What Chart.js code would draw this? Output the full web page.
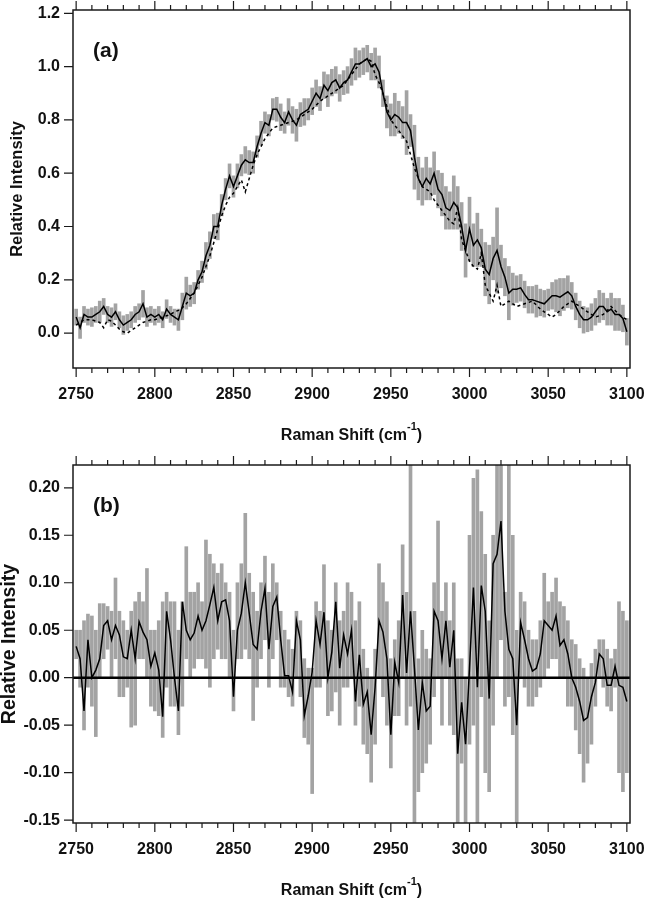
<!DOCTYPE html>
<html>
<head>
<meta charset="utf-8">
<script src="https://cdn.jsdelivr.net/npm/chart.js@4.4.0/dist/chart.umd.min.js"></script>
<style>
  html, body { margin: 0; padding: 0; background: #fff; }
  #wrap { position: relative; width: 647px; height: 899px; }
  canvas { position: absolute; left: 0; }
  #chartA { top: 0; }
  #chartB { top: 450px; }
</style>
</head>
<body>
<div id="wrap">
  <canvas id="chartA" width="647" height="450"></canvas>
  <canvas id="chartB" width="647" height="449"></canvas>
</div>
<script>
// Raman shift grid (cm-1), shared by both panels
const ramanShift = [
  2750, 2752.5, 2755, 2757.5, 2760, 2762.5, 2765, 2767.5, 2770, 2772.5,
  2775, 2777.5, 2780, 2782.5, 2785, 2787.5, 2790, 2792.5, 2795, 2797.5,
  2800, 2802.5, 2805, 2807.5, 2810, 2812.5, 2815, 2817.5, 2820, 2822.5,
  2825, 2827.5, 2830, 2832.5, 2835, 2837.5, 2840, 2842.5, 2845, 2847.5,
  2850, 2852.5, 2855, 2857.5, 2860, 2862.5, 2865, 2867.5, 2870, 2872.5,
  2875, 2877.5, 2880, 2882.5, 2885, 2887.5, 2890, 2892.5, 2895, 2897.5,
  2900, 2902.5, 2905, 2907.5, 2910, 2912.5, 2915, 2917.5, 2920, 2922.5,
  2925, 2927.5, 2930, 2932.5, 2935, 2937.5, 2940, 2942.5, 2945, 2947.5,
  2950, 2952.5, 2955, 2957.5, 2960, 2962.5, 2965, 2967.5, 2970, 2972.5,
  2975, 2977.5, 2980, 2982.5, 2985, 2987.5, 2990, 2992.5, 2995, 2997.5,
  3000, 3002.5, 3005, 3007.5, 3010, 3012.5, 3015, 3017.5, 3020, 3022.5,
  3025, 3027.5, 3030, 3032.5, 3035, 3037.5, 3040, 3042.5, 3045, 3047.5,
  3050, 3052.5, 3055, 3057.5, 3060, 3062.5, 3065, 3067.5, 3070, 3072.5,
  3075, 3077.5, 3080, 3082.5, 3085, 3087.5, 3090, 3092.5, 3095, 3097.5,
  3100
];
const xTicks = [2750, 2800, 2850, 2900, 2950, 3000, 3050, 3100];
const yTicksA = [0, 0.2, 0.4, 0.6, 0.8, 1.0, 1.2];
const yTicksB = [-0.15, -0.10, -0.05, 0, 0.05, 0.10, 0.15, 0.20];

// panel (a): measured spectrum (solid), fit (dashed), uncertainty (grey)
const spectrumA = [
  0.06, 0.02, 0.07, 0.06, 0.06, 0.07, 0.08, 0.10, 0.07, 0.06,
  0.08, 0.05, 0.03, 0.04, 0.05, 0.07, 0.08, 0.11, 0.06, 0.07,
  0.06, 0.07, 0.05, 0.09, 0.07, 0.06, 0.05, 0.10, 0.15, 0.14,
  0.15, 0.20, 0.23, 0.29, 0.33, 0.40, 0.40, 0.48, 0.54, 0.59,
  0.55, 0.59, 0.63, 0.65, 0.64, 0.64, 0.70, 0.75, 0.79, 0.78,
  0.84, 0.84, 0.81, 0.79, 0.83, 0.80, 0.78, 0.82, 0.83, 0.84,
  0.87, 0.90, 0.88, 0.93, 0.91, 0.94, 0.95, 0.92, 0.94, 0.95,
  0.98, 1.01, 1.01, 1.02, 1.03, 1.00, 1.01, 0.98, 0.90, 0.83,
  0.80, 0.82, 0.81, 0.79, 0.79, 0.76, 0.66, 0.58, 0.55, 0.58,
  0.56, 0.60, 0.54, 0.52, 0.47, 0.46, 0.49, 0.47, 0.40, 0.31,
  0.39, 0.33, 0.35, 0.32, 0.24, 0.22, 0.28, 0.31, 0.25, 0.21,
  0.15, 0.165, 0.165, 0.17, 0.145, 0.125, 0.125, 0.12, 0.115, 0.11,
  0.125, 0.14, 0.14, 0.135, 0.145, 0.155, 0.14, 0.10, 0.07, 0.05,
  0.05, 0.06, 0.08, 0.10, 0.10, 0.08, 0.09, 0.07, 0.07, 0.055,
  0.005
];
const fitA = [
  0.03, 0.04, 0.05, 0.05, 0.05, 0.045, 0.04, 0.02, 0.05, 0.045,
  0.03, 0.015, 0.005, 0.0, 0.01, 0.02, 0.03, 0.04, 0.045, 0.05,
  0.05, 0.055, 0.06, 0.065, 0.07, 0.08, 0.085, 0.095, 0.11, 0.13,
  0.15, 0.18, 0.21, 0.25, 0.29, 0.34, 0.39, 0.44, 0.48, 0.51,
  0.525, 0.55, 0.575, 0.53, 0.58, 0.63, 0.67, 0.70, 0.73, 0.75,
  0.77, 0.775, 0.78, 0.785, 0.79, 0.795, 0.80, 0.81, 0.82, 0.83,
  0.84, 0.855, 0.87, 0.88, 0.89, 0.90, 0.91, 0.92, 0.93, 0.95,
  0.97, 0.99, 1.01, 1.02, 1.03, 1.02, 0.97, 0.94, 0.90, 0.85,
  0.80, 0.78, 0.76, 0.74, 0.72, 0.67, 0.62, 0.58, 0.55, 0.54,
  0.53, 0.50, 0.48, 0.46, 0.44, 0.42, 0.41, 0.47, 0.35, 0.31,
  0.27, 0.25, 0.24, 0.30, 0.18, 0.15, 0.12, 0.18, 0.10, 0.11,
  0.12, 0.11, 0.10, 0.105, 0.11, 0.115, 0.12, 0.105, 0.09, 0.08,
  0.07, 0.06, 0.07, 0.085, 0.10, 0.11, 0.12, 0.11, 0.10, 0.09,
  0.08, 0.07, 0.06, 0.065, 0.07, 0.085, 0.10, 0.085, 0.07, 0.06,
  0.05
];
const errA = [
  0.03, 0.04, 0.03, 0.03, 0.035, 0.03, 0.04, 0.03, 0.03, 0.035,
  0.03, 0.03, 0.035, 0.03, 0.03, 0.03, 0.03, 0.05, 0.035, 0.03,
  0.03, 0.03, 0.03, 0.035, 0.03, 0.03, 0.04, 0.05, 0.06, 0.04,
  0.04, 0.035, 0.04, 0.05, 0.05, 0.045, 0.05, 0.04, 0.04, 0.045,
  0.04, 0.045, 0.04, 0.05, 0.045, 0.04, 0.04, 0.045, 0.04, 0.04,
  0.04, 0.045, 0.05, 0.04, 0.05, 0.05, 0.06, 0.045, 0.05, 0.04,
  0.05, 0.05, 0.045, 0.05, 0.06, 0.05, 0.05, 0.05, 0.045, 0.05,
  0.05, 0.06, 0.05, 0.05, 0.05, 0.05, 0.06, 0.06, 0.05, 0.06,
  0.06, 0.08, 0.06, 0.06, 0.12, 0.06, 0.12, 0.08, 0.07, 0.08,
  0.06, 0.08, 0.07, 0.08, 0.08, 0.07, 0.10, 0.08, 0.09, 0.10,
  0.12, 0.08, 0.10, 0.07, 0.10, 0.11, 0.08, 0.16, 0.08, 0.07,
  0.10, 0.06, 0.05, 0.05, 0.05, 0.05, 0.05, 0.06, 0.05, 0.05,
  0.04, 0.05, 0.06, 0.07, 0.06, 0.06, 0.05, 0.05, 0.05, 0.05,
  0.045, 0.05, 0.05, 0.06, 0.05, 0.05, 0.06, 0.06, 0.06, 0.05,
  0.05
];

// panel (b): residual (black) and its spread (grey)
const residualB = [
  0.033, 0.020, -0.035, 0.040, 0.000, 0.008, 0.020, 0.055, 0.060, 0.040,
  0.055, 0.045, 0.022, 0.020, 0.050, 0.020, 0.059, 0.048, 0.040, 0.012,
  0.026, 0.008, -0.041, 0.070, 0.040, 0.000, -0.035, 0.080, 0.050, 0.040,
  0.047, 0.065, 0.050, 0.060, 0.077, 0.095, 0.060, 0.080, 0.082, 0.060,
  -0.020, 0.050, 0.068, 0.100, 0.068, 0.035, 0.030, 0.070, 0.094, 0.030,
  0.075, 0.085, 0.040, 0.002, 0.002, -0.015, 0.060, 0.040, -0.040, -0.019,
  0.006, 0.060, 0.035, 0.069, 0.000, 0.027, 0.080, 0.010, 0.045, 0.025,
  0.050, -0.025, 0.024, -0.028, -0.015, -0.060, -0.010, 0.060, 0.048, 0.020,
  -0.060, 0.016, -0.005, 0.087, 0.005, 0.070, 0.010, -0.055, -0.005, -0.035,
  -0.030, 0.070, 0.060, 0.020, 0.060, 0.011, 0.050, -0.080, -0.026, -0.070,
  0.010, 0.095, -0.010, 0.097, 0.070, -0.022, 0.120, 0.130, 0.165, 0.070,
  0.030, 0.020, -0.050, 0.058, 0.040, 0.020, 0.007, 0.010, 0.025, 0.060,
  0.055, 0.050, 0.065, 0.034, 0.040, 0.025, 0.000, -0.010, -0.025, -0.045,
  -0.042, -0.020, -0.005, 0.025, 0.020, -0.008, -0.008, 0.012, -0.008, -0.010,
  -0.025
];
const residualHiB = [
  0.050, 0.050, 0.060, 0.067, 0.065, 0.050, 0.078, 0.078, 0.075, 0.070,
  0.105, 0.070, 0.060, 0.050, 0.070, 0.080, 0.090, 0.080, 0.115, 0.050,
  0.050, 0.060, 0.080, 0.090, 0.080, 0.080, 0.050, 0.080, 0.138, 0.090,
  0.090, 0.100, 0.080, 0.145, 0.130, 0.120, 0.110, 0.120, 0.100, 0.090,
  0.050, 0.100, 0.120, 0.173, 0.110, 0.090, 0.070, 0.100, 0.128, 0.090,
  0.120, 0.100, 0.070, 0.050, 0.040, 0.030, 0.070, 0.060, 0.020, 0.010,
  0.010, 0.080, 0.070, 0.119, 0.060, 0.050, 0.100, 0.060, 0.070, 0.100,
  0.090, 0.060, 0.080, 0.030, 0.010, 0.000, 0.030, 0.120, 0.100, 0.080,
  0.020, 0.040, 0.060, 0.140, 0.090, 0.230, 0.070, 0.020, 0.050, 0.030,
  0.020, 0.100, 0.165, 0.070, 0.100, 0.060, 0.100, 0.020, 0.020, 0.000,
  0.150, 0.210, 0.219, 0.175, 0.130, 0.060, 0.150, 0.230, 0.230, 0.090,
  0.230, 0.150, 0.050, 0.090, 0.080, 0.050, 0.040, 0.040, 0.060, 0.110,
  0.080, 0.090, 0.105, 0.080, 0.075, 0.060, 0.040, 0.035, 0.020, 0.010,
  0.000, 0.015, 0.030, 0.040, 0.040, 0.030, 0.020, 0.030, 0.080, 0.070,
  0.060
];
const residualLoB = [
  0.020, -0.010, -0.055, -0.010, -0.030, -0.062, 0.000, 0.020, 0.030, 0.000,
  0.020, -0.020, -0.020, -0.010, -0.052, -0.050, 0.020, 0.020, 0.000, -0.030,
  -0.035, -0.040, -0.063, -0.010, -0.030, -0.030, -0.060, -0.030, 0.020, 0.000,
  0.010, 0.020, 0.020, 0.010, -0.010, 0.020, 0.030, 0.020, 0.020, 0.000,
  -0.035, 0.020, 0.020, 0.030, 0.020, -0.045, -0.010, 0.020, 0.040, -0.010,
  0.020, 0.040, -0.010, -0.010, -0.020, -0.030, 0.000, -0.020, -0.063, -0.070,
  -0.122, -0.010, -0.010, 0.000, -0.040, -0.035, -0.015, -0.050, -0.010, -0.010,
  0.000, -0.050, -0.030, -0.070, -0.080, -0.110, -0.070, 0.000, -0.020, -0.050,
  -0.095, -0.040, -0.040, 0.000, -0.050, -0.030, -0.160, -0.120, -0.100, -0.090,
  -0.070, -0.020, 0.000, -0.050, 0.000, -0.050, -0.060, -0.160, -0.090, -0.160,
  -0.070, -0.050, -0.160, -0.020, -0.100, -0.120, -0.050, 0.000, 0.040, -0.030,
  -0.020, -0.060, -0.160, 0.000, -0.010, -0.030, -0.030, -0.020, -0.010, 0.000,
  0.010, 0.020, 0.020, 0.000, 0.000, -0.030, -0.030, -0.055, -0.080, -0.110,
  -0.090, -0.070, -0.030, 0.000, -0.010, -0.030, -0.035, -0.010, -0.100, -0.120,
  -0.100
];

const FONT = '"Liberation Sans", Arial, sans-serif';
const GREY = '#a3a3a3';

// frame, ticks on top/bottom/left, panel letter and x title with superscript
function decorations(panelLabel, titleBaseline) {
  return {
    id: 'decorations',
    afterDraw(chart) {
      const { ctx, chartArea: a, scales: { x, y } } = chart;
      ctx.save();
      ctx.strokeStyle = '#1a1a1a';
      ctx.lineWidth = 1.5;
      ctx.strokeRect(a.left, a.top, a.right - a.left, a.bottom - a.top);

      ctx.beginPath();
      ctx.lineWidth = 1.2;
      for (let v = xTicks[0]; v <= xTicks[xTicks.length - 1]; v += 10) {
        const px = x.getPixelForValue(v);
        const len = xTicks.includes(v) ? 9 : 5;
        ctx.moveTo(px, a.bottom);
        ctx.lineTo(px, a.bottom + len);
        ctx.moveTo(px, a.top);
        ctx.lineTo(px, a.top - len);
      }
      y.ticks.forEach(t => {
        const py = y.getPixelForValue(t.value);
        ctx.moveTo(a.left, py);
        ctx.lineTo(a.left - 9, py);
      });
      ctx.stroke();

      ctx.fillStyle = '#111';
      ctx.textBaseline = 'middle';
      ctx.textAlign = 'left';
      ctx.font = 'bold 21px ' + FONT;
      ctx.fillText(panelLabel, a.left + 20, a.top + 41);

      // "Raman Shift (cm-1)"
      ctx.textBaseline = 'alphabetic';
      const main = 'Raman Shift (cm';
      const sup = '-1';
      const close = ')';
      ctx.font = 'bold 16px ' + FONT;
      const w1 = ctx.measureText(main).width;
      const w3 = ctx.measureText(close).width;
      ctx.font = 'bold 11px ' + FONT;
      const w2 = ctx.measureText(sup).width;
      let sx = (a.left + a.right) / 2 - (w1 + w2 + w3) / 2;
      ctx.font = 'bold 16px ' + FONT;
      ctx.fillText(main, sx, titleBaseline);
      ctx.font = 'bold 11px ' + FONT;
      ctx.fillText(sup, sx + w1, titleBaseline - 10);
      ctx.font = 'bold 16px ' + FONT;
      ctx.fillText(close, sx + w1 + w2, titleBaseline);
      ctx.restore();
    }
  };
}

function buildChart(id, cfg) {
  return new Chart(document.getElementById(id), {
    data: { datasets: cfg.datasets },
    options: {
      responsive: false,
      animation: false,
      devicePixelRatio: 1,
      events: [],
      layout: { padding: { left: 0, right: 17, top: cfg.padTop, bottom: 0 } },
      plugins: { legend: { display: false }, tooltip: { enabled: false } },
      scales: {
        x: {
          type: 'linear',
          offset: false,
          min: 2748,
          max: 3102,
          afterBuildTicks: s => { s.ticks = xTicks.map(v => ({ value: v })); },
          afterFit: s => { s.height = cfg.xHeight; s.paddingLeft = 0; s.paddingRight = 0; },
          grid: { display: false, drawTicks: false, offset: false },
          border: { display: false },
          ticks: {
            autoSkip: false,
            maxRotation: 0,
            padding: 19,
            color: '#111',
            font: { family: FONT, size: 16, weight: 'bold', lineHeight: 1 },
            callback: v => String(v)
          }
        },
        y: {
          type: 'linear',
          min: cfg.yMin,
          max: cfg.yMax,
          afterBuildTicks: s => { s.ticks = cfg.yTicks.map(v => ({ value: v })); },
          afterFit: s => { s.width = 73; s.paddingTop = 0; s.paddingBottom = 0; },
          grid: { display: false, drawTicks: false },
          border: { display: false },
          ticks: {
            padding: 13,
            color: '#111',
            font: { family: FONT, size: 16, weight: 'bold', lineHeight: 1 },
            callback: v => v.toFixed(cfg.decimals)
          },
          title: {
            display: true,
            text: 'Relative Intensity',
            color: '#111',
            padding: { top: cfg.yTitlePad, bottom: 0 },
            font: { family: FONT, size: cfg.yTitleSize, weight: 'bold', lineHeight: 1 }
          }
        }
      }
    },
    plugins: [decorations(cfg.label, cfg.titleBaseline)]
  });
}

buildChart('chartA', {
  label: '(a)',
  padTop: 10,
  xHeight: 82,
  yMin: -0.131,
  yMax: 1.2125,
  yTicks: yTicksA,
  decimals: 1,
  yTitleSize: 16.5,
  yTitlePad: 9,
  titleBaseline: 440,
  datasets: [
    {
      type: 'bar',
      data: ramanShift.map((x, i) => ({ x: x, y: [spectrumA[i] - errA[i], spectrumA[i] + errA[i]] })),
      backgroundColor: GREY,
      barThickness: 3,
      grouped: false,
      order: 3
    },
    {
      type: 'line',
      data: ramanShift.map((x, i) => ({ x: x, y: fitA[i] })),
      borderColor: '#000',
      borderWidth: 1.5,
      borderDash: [3, 3],
      pointRadius: 0,
      tension: 0,
      order: 2
    },
    {
      type: 'line',
      data: ramanShift.map((x, i) => ({ x: x, y: spectrumA[i] })),
      borderColor: '#000',
      borderWidth: 1.5,
      pointRadius: 0,
      tension: 0,
      order: 1
    }
  ]
});

buildChart('chartB', {
  label: '(b)',
  padTop: 15,
  xHeight: 76,
  yMin: -0.153,
  yMax: 0.224,
  yTicks: yTicksB,
  decimals: 2,
  yTitleSize: 19.5,
  yTitlePad: 0,
  titleBaseline: 445,
  datasets: [
    {
      type: 'bar',
      data: ramanShift.map((x, i) => ({ x: x, y: [residualLoB[i], residualHiB[i]] })),
      backgroundColor: GREY,
      barThickness: 3,
      grouped: false,
      order: 3
    },
    {
      type: 'line',
      data: [{ x: 2748, y: 0 }, { x: 3102, y: 0 }],
      borderColor: '#000',
      borderWidth: 2.5,
      pointRadius: 0,
      order: 2
    },
    {
      type: 'line',
      data: ramanShift.map((x, i) => ({ x: x, y: residualB[i] })),
      borderColor: '#000',
      borderWidth: 1.5,
      pointRadius: 0,
      tension: 0,
      order: 1
    }
  ]
});
</script>
</body>
</html>
